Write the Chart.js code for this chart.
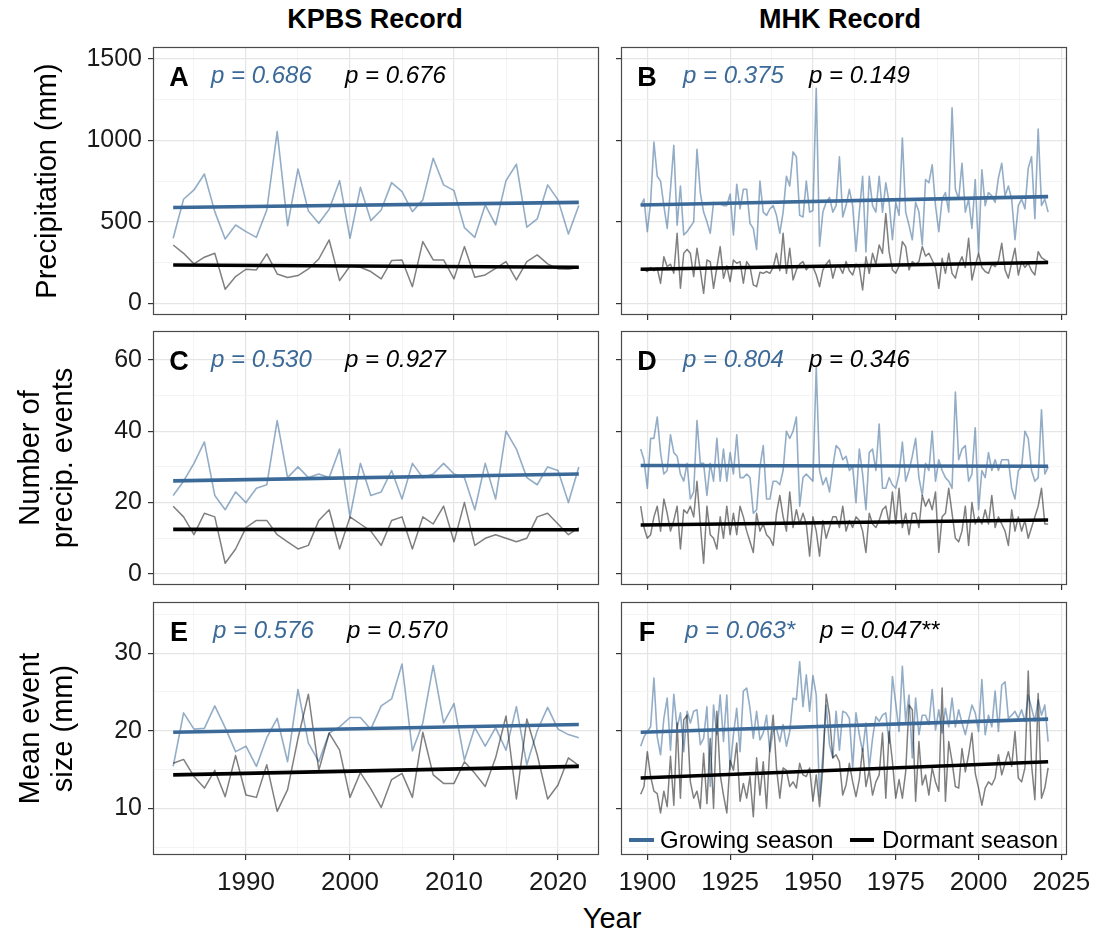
<!DOCTYPE html>
<html>
<head>
<meta charset="utf-8">
<script src="https://cdn.jsdelivr.net/npm/chart.js@4.4.1/dist/chart.umd.min.js"></script>
<style>
  body { margin: 0; background: #fff; width: 1094px; height: 943px; position: relative; overflow: hidden;
         font-family: "Liberation Sans", Arial, Helvetica, sans-serif; }
  canvas { position: absolute; }
  .lab { position: absolute; color: #000; white-space: nowrap; transform: translateX(-50%); }
</style>
</head>
<body>
<div class="lab" style="left:375px; top:4px; font-size:27px; font-weight:bold;">KPBS Record</div>
<div class="lab" style="left:840px; top:4px; font-size:27px; font-weight:bold;">MHK Record</div>
<div class="lab" style="left:612px; top:902px; font-size:29px;">Year</div>

<canvas id="pA" width="606" height="283" style="left:0px; top:40px;"></canvas>
<canvas id="pB" width="488" height="283" style="left:606px; top:40px;"></canvas>
<canvas id="pC" width="606" height="270" style="left:0px; top:323px;"></canvas>
<canvas id="pD" width="488" height="270" style="left:606px; top:323px;"></canvas>
<canvas id="pE" width="606" height="307" style="left:0px; top:593px;"></canvas>
<canvas id="pF" width="488" height="307" style="left:606px; top:593px;"></canvas>

<script>
"use strict";

// ---- data ----
const kpbsStart = 1983;   // KPBS record 1983-2022
const mhkStart = 1898;    // MHK record 1898-2021

// growing season / dormant season precipitation (mm)
const kpbsPrecipGrow = [399,639,696,794,563,395,481,440,405,573,1054,477,825,567,491,577,753,399,712,508,
  573,741,686,563,635,891,727,692,465,405,604,481,753,854,467,518,727,635,426,600];
const kpbsPrecipDorm = [358,307,242,283,307,86,164,209,205,303,180,158,170,211,272,389,139,229,221,195,
  150,262,266,102,379,266,266,150,348,160,174,215,256,143,256,297,242,211,209,219];
const mhkPrecipGrow = [600,640,440,620,990,780,750,600,460,700, 970,480,720,420,440,470,500,945,680,560,
  500,430,620,610,610,600,600,670,420,730, 580,700,700,490,460,330,750,560,540,580,
  600,540,430,560,780,720,930,900,540,530, 750,560,570,1320,350,560,620,650,560,600,
  900,530,600,700,600,320,560,780,315,780, 600,560,780,560,740,620,390,620,540,1015,
  560,480,390,620,560,360,760,740,850,600, 440,640,680,560,1200,700,640,860,560,640,
  460,760,310,820,600,680,660,620,770,860, 660,720,640,390,600,640,580,830,900,520,
  1070,600,640,560];
const mhkPrecipDorm = [205,210,195,220,200,215,123,286,225,240, 185,430,92,307,331,307,164,338,205,61,
  266,256,92,220,348,154,230,133,266,246, 256,123,256,225,113,102,190,184,195,184,
  220,307,200,430,184,338,143,205,240,256, 205,230,225,174,102,205,240,266,154,230,
  225,184,256,200,174,241,220,82,286,184, 307,240,358,307,552,317,205,184,230,379,
  348,205,256,240,256,348,290,307,266,220, 92,276,184,307,184,154,240,286,220,399,
  143,230,307,220,195,184,240,225,260,368, 205,154,250,338,174,256,220,246,200,174,
  317,280,266,256];

// number of precipitation events
const kpbsEventsGrow = [22,26,31,37,22,18,23,20,24,25, 43,27,30,27,28,27,35,16,31,22,
  23,29,21,31,27,28,31,28,27,18, 31,21,40,35,27,25,30,29,20,30];
const kpbsEventsDorm = [19,16,11,17,16,3,7,13,15,15, 11,9,7,8,15,18,7,16,14,12,
  8,15,16,7,16,14,19,9,20,8, 10,11,10,9,10,16,17,14,11,13];
const mhkEventsGrow = [35,32,24,38,38,44,34,28,29,39, 34,33,28,26,31,21,23,43,31,31,
  22,31,26,38,26,35,26,34,28,39, 27,27,28,27,17,18,30,36,21,21,
  26,26,25,29,40,38,40,44,19,27, 28,27,26,58,29,25,27,23,30,36,
  35,32,33,29,30,20,35,28,18,34, 35,29,42,24,24,27,25,24,28,37,
  26,29,33,38,27,22,31,29,40,26, 32,29,27,26,24,51,32,35,36,26,
  28,41,18,29,27,34,29,32,29,32, 32,32,24,21,29,30,40,38,29,26,
  27,46,28,30];
const mhkEventsDorm = [19,13,10,11,16,19,12,21,17,12, 15,19,7,18,17,19,16,26,14,3,
  19,11,10,7,16,10,19,11,17,11, 19,16,12,9,6,17,12,14,11,10,
  8,17,22,16,12,23,13,18,14,17, 14,5,16,12,5,15,10,13,16,16,
  13,19,12,15,13,16,15,12,6,17, 14,13,15,18,19,14,23,14,24,13,
  17,11,17,17,13,22,19,21,18,23, 6,16,17,24,17,10,9,12,19,8,
  20,14,16,14,18,14,22,13,16,14, 12,8,18,12,16,12,15,10,13,16,
  19,24,14,14];

// mean event size (mm)
const kpbsSizeGrow = [15.4,22.3,20.2,20.3,23.2,20.4,17.3,18,15.4,19.1, 21.6,16,25.3,18.4,16,19.7,20.5,21.7,21.7,20.2,
  23.2,24.1,28.6,17.4,21,28.4,21,23.5,16.2,20.4, 18,20.4,17.5,23.1,15.6,20,23,20.2,19.5,19.1];
const kpbsSizeDorm = [15.8,16.3,14.1,12.6,14.9,11.5,16.8,11.7,11.4,15.6, 9.6,12.4,19,24.7,14.9,19.7,17.5,11.4,14.6,12.5,
  10.1,13.7,14.5,11.4,19.8,14.3,13.2,13.2,16,14.5, 12.8,16.5,21.9,11.2,21.5,16.9,11.2,13,16.5,15.5];
const mhkSizeGrow = [18,19.2,19.9,20.5,26.8,19.2,16.9,21.6,24.2,17.5, 24.7,20.3,22.3,17.3,22.5,21,22.5,22.7,18.2,19,
  23.1,12.8,23.3,19.5,24.6,18.6,24.6,15,19.5,22.9, 17.3,25.1,25.5,22.9,19,22.5,18.8,19.7,22,17.3,
  20,20.3,18.6,20.8,18,19.9,24.2,24,28.9,23.1, 27.2,22.5,27.1,24.6,11.5,16.9,23.3,18.2,16.5,22.5,
  17.5,22.5,22.3,21.6,15.2,22.3,19.5,17.3,21,15.2, 19,21.8,21.2,22,22.3,18.4,27,23.5,19.9,28.3,
  21.2,24.6,16.5,24.2,19.5,22,22,20.8,25.3,20.1, 22.7,19.7,22.9,20.5,24.2,20.5,22.7,21,19.5,21.4,
  23.3,22.3,19.9,26.6,19.5,22,20.5,25.1,19.9,25.9, 26.3,21.6,22,22.5,21.6,22.7,21.2,24.6,22.9,21.2,
  24,22,23.3,18.6];
const mhkSizeDorm = [11.8,12.8,17.3,14.1,12.2,11.9,9.4,12.2,10.2,16.7, 10.4,21,11.3,21.4,22,13.4,11.3,12.2,10,17.1,
  10.6,19,10,22.5,14.3,11.7,9.4,16.2,14.9,18.4, 10.9,13.2,11.3,14.1,8.9,16.5,11.7,16,10,18,
  22,15.2,11.3,15.2,14.9,12.8,13.4,12.6,15.8,14.3, 14.1,15.2,10.9,14.3,10.2,15.2,24.7,22,16.5,16.9,
  16,11.7,13,15.8,13.4,11.5,13.7,17.7,12.8,14.9, 11.7,13.4,14.3,19.7,11.3,19.9,16,11.3,13.7,11.3,
  14.7,23.3,22.7,10.9,18.6,13,14.3,11.7,15.2,13.4, 12.2,25.5,10.9,18.6,16,12.8,12.6,17.7,14.7,16.9,
  19.7,14.5,12.6,10.4,12.6,13.4,13,13.9,16.9,14.3, 15.8,17.3,15.4,19.9,13.9,13.4,15.2,27.7,15.6,11.1,
  24.8,11.3,12.6,15.2];

// fitted trend lines: [value at first year, value at last year]
const trendA = { grow: [588, 620], dorm: [235, 221] };
const trendB = { grow: [604, 655], dorm: [209, 250] };
const trendC = { grow: [26.1, 28.0], dorm: [12.5, 12.4] };
const trendD = { grow: [30.4, 30.2], dorm: [13.7, 15.1] };
const trendE = { grow: [19.8, 20.8], dorm: [14.3, 15.4] };
const trendF = { grow: [19.8, 21.5], dorm: [13.9, 16.0] };

// tick labels
const kpbsTicks = [1990, 2000, 2010, 2020];
const kpbsMinor = [1985, 1995, 2005, 2015];
const mhkTicks = [1900, 1925, 1950, 1975, 2000, 2025];
const mhkMinor = [1912.5, 1937.5, 1962.5, 1987.5, 2012.5];
const precipTicks = [0, 500, 1000, 1500];
const precipMinor = [250, 750, 1250];
const eventTicks = [0, 20, 40, 60];
const eventMinor = [10, 30, 50];
const sizeTicks = [10, 20, 30];
const sizeMinor = [5, 15, 25, 35];

// ---- styling ----
const FONT = '"Liberation Sans", Arial, Helvetica, sans-serif';
const BLUE = '#3b6a99';
const BLUE_RAW = 'rgba(59,106,153,0.55)';
const GREY_RAW = 'rgba(0,0,0,0.5)';

function series(start, vals) {
    return vals.map((v, i) => ({ x: start + i, y: v }));
}

// panel frame, letter, p-values and (for F) the legend
const panelDeco = {
    id: 'panelDeco',
    afterDatasetsDraw(chart) {
        const { ctx, chartArea: a } = chart;
        ctx.save();
        ctx.strokeStyle = '#4a4a4a';
        ctx.lineWidth = 1.2;
        ctx.strokeRect(a.left + 0.5, a.top + 0.5, a.width - 1, a.height - 1);
        ctx.restore();
    },
    afterDraw(chart, args, o) {
        if (!o.letter) return;
        const { ctx, chartArea: a } = chart;
        ctx.save();
        ctx.textBaseline = 'alphabetic';
        ctx.fillStyle = '#000';
        ctx.textAlign = 'center';
        ctx.font = 'bold 27px ' + FONT;
        ctx.fillText(o.letter, a.left + 26, a.top + 38.5);
        ctx.textAlign = 'left';
        ctx.font = 'italic 24px ' + FONT;
        ctx.fillStyle = BLUE;
        ctx.fillText(o.pGrow, a.left + o.dxGrow, a.top + 35.5);
        ctx.fillStyle = '#000';
        ctx.fillText(o.pDorm, a.left + o.dxDorm, a.top + 35.5);
        if (o.legend) {
            const ds = chart.data.datasets;
            const y = a.bottom - 15;
            ctx.lineWidth = 4;
            ctx.strokeStyle = ds[1].borderColor;
            ctx.beginPath(); ctx.moveTo(a.left + 8, y); ctx.lineTo(a.left + 33, y); ctx.stroke();
            ctx.strokeStyle = ds[0].borderColor;
            ctx.beginPath(); ctx.moveTo(a.left + 229, y); ctx.lineTo(a.left + 253, y); ctx.stroke();
            ctx.font = '24px ' + FONT;
            ctx.fillStyle = '#000';
            ctx.fillText(ds[1].label, a.left + 39, a.bottom - 7);
            ctx.fillText(ds[0].label, a.left + 261, a.bottom - 7);
        }
        ctx.restore();
    }
};

function tickList(major, minor) {
    return major.map(v => ({ value: v })).concat(minor.map(v => ({ value: v, minor: true })));
}

function gridOpts() {
    return {
        color: c => (c.tick && c.tick.minor) ? '#f1f1f1' : '#e5e5e5',
        lineWidth: c => (c.tick && c.tick.minor) ? 0.8 : 1.2,
        tickColor: c => (c.tick && c.tick.minor) ? 'rgba(0,0,0,0)' : '#333',
        tickWidth: 1.2,
        tickLength: 5,
        drawTicks: true
    };
}

function makePanel(id, o) {
    const datasets = [
        { label: 'Dormant season', data: [{ x: o.x0, y: o.trend.dorm[0] }, { x: o.x1, y: o.trend.dorm[1] }],
          borderColor: '#000', borderWidth: 3.6 },
        { label: 'Growing season', data: [{ x: o.x0, y: o.trend.grow[0] }, { x: o.x1, y: o.trend.grow[1] }],
          borderColor: BLUE, borderWidth: 3.6 },
        { label: 'dormant', data: series(o.start, o.dorm), borderColor: GREY_RAW, borderWidth: 1.5 },
        { label: 'growing', data: series(o.start, o.grow), borderColor: BLUE_RAW, borderWidth: 1.6 }
    ];
    return new Chart(document.getElementById(id), {
        type: 'line',
        data: { datasets: datasets },
        options: {
            responsive: false,
            animation: false,
            devicePixelRatio: 1,
            layout: { padding: { top: o.padTop, right: o.padRight, left: 0, bottom: 0 } },
            elements: { point: { radius: 0 }, line: { tension: 0, borderJoinStyle: 'round' } },
            plugins: {
                legend: { display: false },
                tooltip: { enabled: false },
                panelDeco: o.deco
            },
            scales: {
                x: {
                    type: 'linear',
                    min: o.xMin, max: o.xMax,
                    afterBuildTicks: s => { s.ticks = tickList(o.xTicks, o.xMinor); },
                    afterFit: s => { s.height = o.xHeight; s.paddingLeft = 0; s.paddingRight = 0; },
                    grid: gridOpts(),
                    border: { display: false },
                    ticks: {
                        display: o.xLabels,
                        autoSkip: false,
                        maxRotation: 0,
                        padding: 7,
                        color: '#1a1a1a',
                        font: { family: FONT, size: 26 },
                        callback: (v, i, t) => t[i].minor ? '' : String(v)
                    }
                },
                y: {
                    type: 'linear',
                    min: o.yMin, max: o.yMax,
                    afterBuildTicks: s => { s.ticks = tickList(o.yTicks, o.yMinor); },
                    afterFit: s => { s.width = o.yWidth; s.paddingTop = 0; s.paddingBottom = 0; },
                    grid: gridOpts(),
                    border: { display: false },
                    title: o.yTitle ? {
                        display: true,
                        text: o.yTitle,
                        color: '#000',
                        font: { family: FONT, size: 29, lineHeight: 1.15 },
                        padding: { top: o.titlePad, bottom: 0 }
                    } : { display: false },
                    ticks: {
                        display: o.yLabels,
                        autoSkip: false,
                        padding: 6,
                        color: '#1a1a1a',
                        font: { family: FONT, size: 25 },
                        callback: (v, i, t) => t[i].minor ? '' : String(v)
                    }
                }
            }
        },
        plugins: [panelDeco]
    });
}

const kpbsEnd = kpbsStart + kpbsPrecipGrow.length - 1;
const mhkEnd = mhkStart + mhkPrecipGrow.length - 1;
const leftCol = { start: kpbsStart, x0: kpbsStart, x1: kpbsEnd, xMin: 1981.06, xMax: 2023.94,
    xTicks: kpbsTicks, xMinor: kpbsMinor, yWidth: 153, padRight: 7, yLabels: true };
const rightCol = { start: mhkStart, x0: mhkStart, x1: mhkEnd, xMin: 1892.06, xMax: 2026.7,
    xTicks: mhkTicks, xMinor: mhkMinor, yWidth: 15, padRight: 27, yLabels: false };
const row1 = { yMin: -72, yMax: 1574, yTicks: precipTicks, yMinor: precipMinor, padTop: 7, xHeight: 8, xLabels: false };
const row2 = { yMin: -3.1, yMax: 68.1, yTicks: eventTicks, yMinor: eventMinor, padTop: 8, xHeight: 8, xLabels: false };
const row3 = { yMin: 3.97, yMax: 36.6, yTicks: sizeTicks, yMinor: sizeMinor, padTop: 9, xHeight: 45, xLabels: true };

makePanel('pA', Object.assign({}, leftCol, row1, {
    grow: kpbsPrecipGrow, dorm: kpbsPrecipDorm, trend: trendA,
    yTitle: 'Precipitation (mm)', titlePad: 31,
    deco: { letter: 'A', pGrow: 'p = 0.686', pDorm: 'p = 0.676', dxGrow: 58, dxDorm: 192 }
}));
makePanel('pB', Object.assign({}, rightCol, row1, {
    grow: mhkPrecipGrow, dorm: mhkPrecipDorm, trend: trendB,
    deco: { letter: 'B', pGrow: 'p = 0.375', pDorm: 'p = 0.149', dxGrow: 62, dxDorm: 188 }
}));
makePanel('pC', Object.assign({}, leftCol, row2, {
    grow: kpbsEventsGrow, dorm: kpbsEventsDorm, trend: trendC,
    yTitle: ['Number of', 'precip. events'], titlePad: 14,
    deco: { letter: 'C', pGrow: 'p = 0.530', pDorm: 'p = 0.927', dxGrow: 58, dxDorm: 192 }
}));
makePanel('pD', Object.assign({}, rightCol, row2, {
    grow: mhkEventsGrow, dorm: mhkEventsDorm, trend: trendD,
    deco: { letter: 'D', pGrow: 'p = 0.804', pDorm: 'p = 0.346', dxGrow: 62, dxDorm: 188 }
}));
makePanel('pE', Object.assign({}, leftCol, row3, {
    grow: kpbsSizeGrow, dorm: kpbsSizeDorm, trend: trendE,
    yTitle: ['Mean event', 'size (mm)'], titlePad: 14,
    deco: { letter: 'E', pGrow: 'p = 0.576', pDorm: 'p = 0.570', dxGrow: 60, dxDorm: 194 }
}));
makePanel('pF', Object.assign({}, rightCol, row3, {
    grow: mhkSizeGrow, dorm: mhkSizeDorm, trend: trendF,
    deco: { letter: 'F', pGrow: 'p = 0.063*', pDorm: 'p = 0.047**', dxGrow: 64, dxDorm: 199, legend: true }
}));
</script>
</body>
</html>
